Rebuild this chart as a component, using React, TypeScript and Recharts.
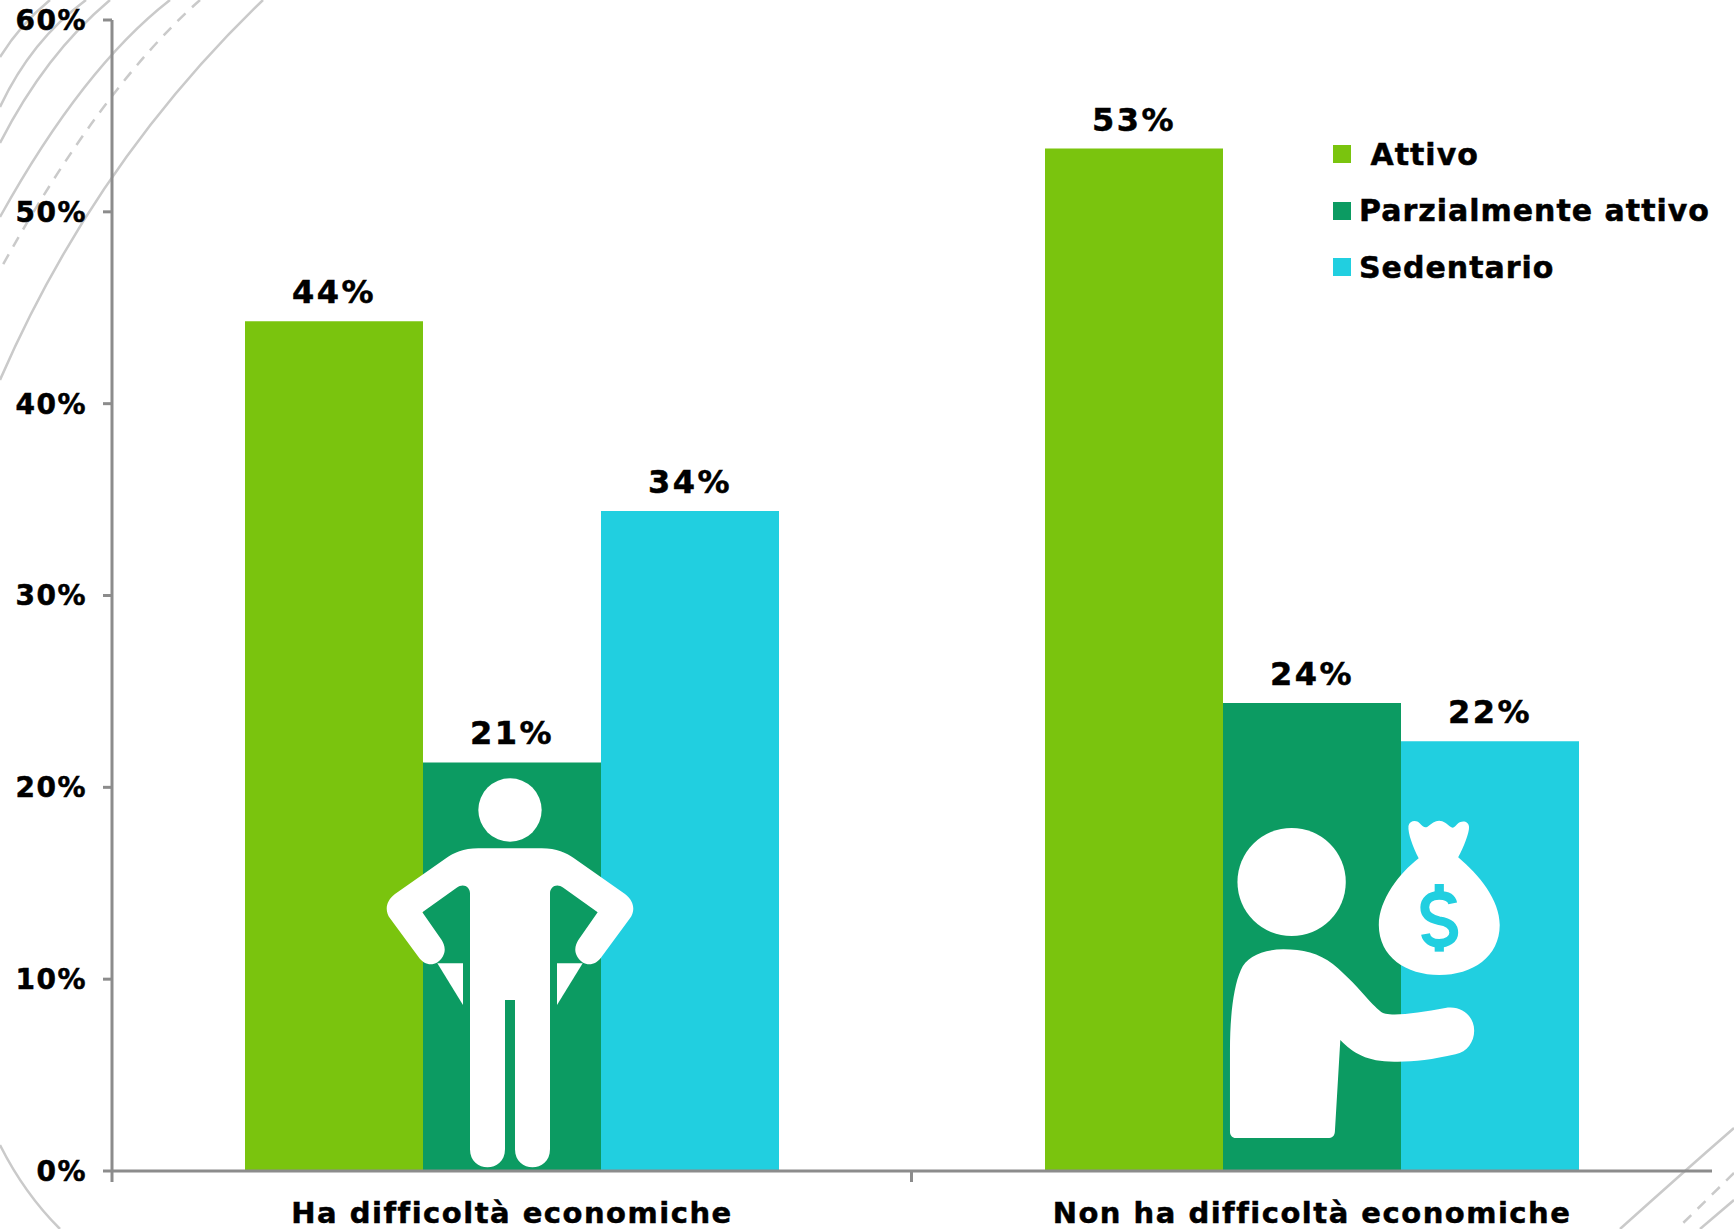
/**
 * Attivita fisica per difficolta economiche: grouped bars with the two pictograms
 * and the decorative arcs of the slide background.
 */
import { BarChart, Bar, XAxis, YAxis, Legend, LabelList } from "recharts";

const categories = ["Ha difficoltà economiche", "Non ha difficoltà economiche"];
const attivo = [44.3, 53.3];
const parziale = [21.3, 24.4];
const sedentario = [34.4, 22.4];
const seriesNames = [" Attivo", "Parzialmente attivo", "Sedentario"];
const yTicks = [0, 10, 20, 30, 40, 50, 60];
const frameTicks = [0, 2];

const GREEN = "#7AC40E";
const DARK = "#0C9B62";
const CYAN = "#21CFE0";
const AXIS = "#8C8C8C";
const ARC = "#CACACA";
const FONT = "'DejaVu Sans', Verdana, sans-serif";

const data = categories.map((name, i) => ({
  name,
  attivo: attivo[i],
  parziale: parziale[i],
  sedentario: sedentario[i],
}));

const pct = (v: any) => `${Math.round(Number(v))}%`;

// a thin outline brings DejaVu Bold closer to the heavier face of the original
const textStyle = { fontFamily: FONT, fontWeight: 700, fill: "#000", stroke: "#000", strokeWidth: 0.5 };
const barLabel = { ...textStyle, fontSize: 32, letterSpacing: 2.5 };

const LegendBox = ({ payload }: any) => (
  <div style={{ fontFamily: FONT, fontWeight: 700, fontSize: 30, letterSpacing: 1, color: "#000", WebkitTextStroke: "0.5px #000" }}>
    {(payload ?? []).map((p: any) => (
      <div key={p.value} style={{ height: 56.5, display: "flex", alignItems: "center", whiteSpace: "pre" }}>
        <span style={{ width: 18, height: 18, background: p.color, marginRight: 8, flex: "none" }} />
        <span>{p.value}</span>
      </div>
    ))}
  </div>
);

// slide background, not data
const Arcs = () => (
  <svg width={1734} height={1229} style={{ position: "absolute", left: 0, top: 0 }} fill="none" stroke={ARC} strokeWidth={2.5}>
    <path d="M263 0 Q94.5 162 0 380" />
    <path d="M200 0 Q100 89 0 270" strokeDasharray="11 9" />
    <path d="M170 0 Q83 67.5 0 217" />
    <path d="M110 0 Q45 54.5 0 143" />
    <path d="M86 0 Q31 40.5 0 107" />
    <path d="M50 0 Q21 23.5 0 57" />
    <path d="M0 1145 Q24 1193 60 1229" />
    <path d="M1734 1128 Q1680 1175 1620 1229" />
    <path d="M1734 1173 L1677 1229" strokeDasharray="11 9" />
    <path d="M1734 1200 L1700 1229" />
  </svg>
);

const Pictograms = () => (
  <svg width={1734} height={1229} style={{ position: "absolute", left: 0, top: 0, pointerEvents: "none" }} fill="#fff">
    {/* tick between the two groups: the frame axis only draws its two ends */}
    <line x1={911.5} x2={911.5} y1={1171} y2={1182} stroke={AXIS} strokeWidth={3} />
    <g transform="translate(360 740) scale(0.33333)">
      <circle cx={450} cy={210} r={95} />
      <path d="M355 325 L545 325 C590 325 620 340 640 353 L795 462 C825 485 825 515 810 535 L725 650 C705 680 670 680 652 650 C640 630 648 612 655 600 L713 517 L610 443 C590 428 570 440 570 460 L570 1228 C570 1300 465 1300 465 1228 L465 780 L435 780 L435 1228 C435 1300 330 1300 330 1228 L330 460 C330 440 310 428 290 443 L187 517 L245 600 C252 612 260 630 248 650 C230 680 195 680 175 650 L90 535 C75 515 75 485 105 462 L260 353 C280 340 310 325 355 325 Z" />
      <path d="M232 670 L309 670 L309 795 Z" />
      <path d="M668 670 L591 670 L591 795 Z" />
    </g>
    <g transform="translate(1200 790) scale(0.3406 0.33333)">
      <ellipse cx={269} cy={276} rx={159} ry={162} />
      <path d="M245 478 C300 478 350 490 390 522 C430 555 470 600 500 635 C520 655 530 668 545 671 C575 678 650 668 720 654 C770 645 805 680 805 722 C805 755 785 785 750 793 C680 810 620 816 570 815 C490 815 450 790 412 750 L396 1025 C395 1038 388 1044 375 1044 L105 1044 C95 1044 88 1036 88 1025 L88 780 C88 680 98 590 120 540 C135 500 185 478 245 478 Z" />
      <path d="M612 108 C615 92 635 88 645 100 C655 110 660 115 668 110 C680 100 690 92 702 92 C715 92 725 102 738 112 C745 116 750 108 758 100 C768 90 790 92 790 112 C790 130 775 170 758 202 C820 255 880 330 880 405 C880 500 800 555 703 555 C605 555 525 500 525 405 C525 330 585 250 642 205 C625 170 610 130 612 108 Z" />
      <path d="M742 340 C738 320 720 316 702 316 C675 316 660 332 660 352 C660 378 680 388 702 392 C730 396 745 408 745 428 C745 448 725 460 702 460 C680 460 665 448 662 432" fill="none" stroke={CYAN} strokeWidth={26} />
      <rect x={689} y={282} width={27} height={34} fill={CYAN} />
      <rect x={689} y={458} width={27} height={27} fill={CYAN} />
    </g>
  </svg>
);

export default function App() {
  return (
    <div style={{ position: "absolute", left: 0, top: 0, width: 1734, height: 1229, background: "#fff", overflow: "hidden" }}>
      <Arcs />
      <div style={{ position: "absolute", left: 0, top: 0 }}>
        <BarChart
          width={1734}
          height={1229}
          data={data}
          margin={{ top: 20, right: 22, left: 0, bottom: 8 }}
          barGap={0}
          barSize={178}
        >
          {/* the box line, labels come from the category axis below */}
          <XAxis
            type="number"
            domain={[0, 2]}
            ticks={frameTicks}
            interval={0}
            height={1}
            tickSize={11}
            tick={() => <g />}
            stroke={AXIS}
            strokeWidth={3}
          />
          <XAxis
            xAxisId="cat"
            dataKey="name"
            height={49}
            axisLine={false}
            tickLine={false}
            interval={0}
            tick={{ ...textStyle, fontSize: 29, letterSpacing: 1.5 }}
            tickSize={0}
            tickMargin={30}
          />
          <YAxis
            width={112}
            domain={[0, 60]}
            ticks={yTicks}
            interval={0}
            tickFormatter={pct}
            tickSize={9}
            tickMargin={16}
            stroke={AXIS}
            strokeWidth={3}
            tick={{ ...textStyle, fontSize: 28, letterSpacing: 1.5 }}
          />
          <Legend
            layout="vertical"
            align="center"
            verticalAlign="middle"
            content={<LegendBox />}
            wrapperStyle={{ left: 1333, top: 126, width: 400, height: 171 }}
          />
          <Bar xAxisId="cat" dataKey="attivo" name={seriesNames[0]} fill={GREEN} isAnimationActive={false}>
            <LabelList dataKey="attivo" position="top" offset={18} formatter={pct} style={barLabel} />
          </Bar>
          <Bar xAxisId="cat" dataKey="parziale" name={seriesNames[1]} fill={DARK} isAnimationActive={false}>
            <LabelList dataKey="parziale" position="top" offset={18} formatter={pct} style={barLabel} />
          </Bar>
          <Bar xAxisId="cat" dataKey="sedentario" name={seriesNames[2]} fill={CYAN} isAnimationActive={false}>
            <LabelList dataKey="sedentario" position="top" offset={18} formatter={pct} style={barLabel} />
          </Bar>
        </BarChart>
      </div>
      <Pictograms />
    </div>
  );
}
